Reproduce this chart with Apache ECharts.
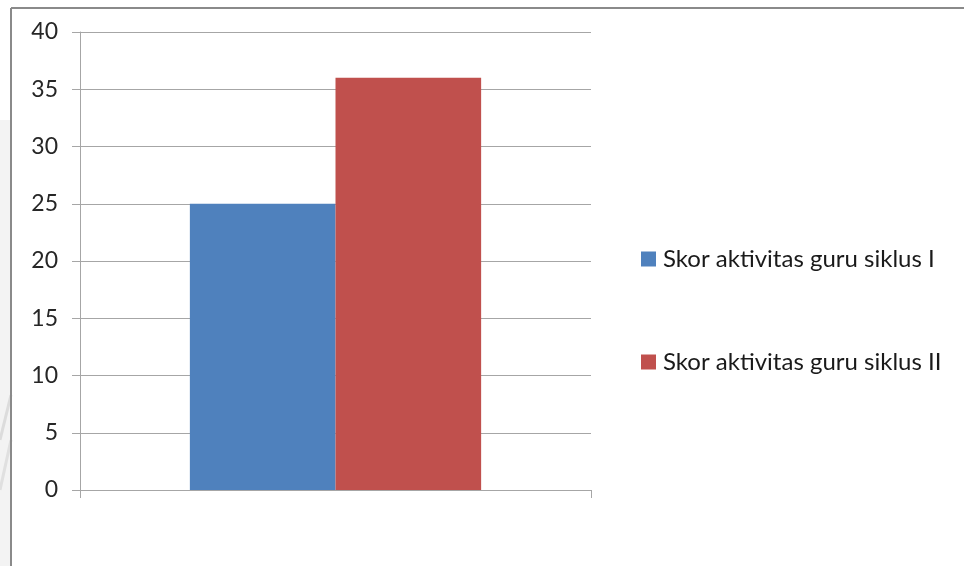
<!DOCTYPE html>
<html>
<head>
<meta charset="utf-8">
<script src="https://cdn.jsdelivr.net/npm/echarts@6/dist/echarts.min.js"></script>
<style>
  html, body { margin: 0; padding: 0; background: #ffffff; }
  #chart { width: 964px; height: 566px; }
</style>
</head>
<body>
<div id="chart"></div>
<script>
// Categories and scores
const categories = [''];
const seriesNames = ['Skor aktivitas guru siklus I', 'Skor aktivitas guru siklus II'];
const siklusI = [25];
const siklusII = [36];
const seriesColors = ['#4f81bd', '#c0504d'];

const chart = echarts.init(document.getElementById('chart'));
const gridColor = '#a6a6a6';
const font = 'Lato, "Open Sans", sans-serif';

chart.setOption({
  animation: false,
  backgroundColor: '#ffffff',
  graphic: [
    // page edge on the left with its faint shading
    { type: 'rect', shape: { x: 0, y: 120, width: 10, height: 446 }, style: { fill: '#f3f3f3' }, z: -10 },
    { type: 'line', shape: { x1: 11, y1: 395, x2: 0, y2: 440 }, style: { stroke: '#dcdcdc', lineWidth: 3 }, z: -9 },
    { type: 'line', shape: { x1: 11, y1: 440, x2: 0, y2: 490 }, style: { stroke: '#e0e0e0', lineWidth: 3 }, z: -9 },
    // chart frame
    { type: 'line', shape: { x1: 11, y1: 8, x2: 964, y2: 8 }, style: { stroke: '#8a8a8a', lineWidth: 2 }, z: -5 },
    { type: 'line', shape: { x1: 11, y1: 8, x2: 11, y2: 566 }, style: { stroke: '#8a8a8a', lineWidth: 2 }, z: -5 }
  ],
  grid: { left: 80, top: 32, width: 511, height: 458, containLabel: false },
  legend: {
    orient: 'vertical',
    left: 641,
    top: 247,
    padding: 0,
    itemWidth: 15,
    itemHeight: 15,
    itemGap: 79,
    icon: 'rect',
    textStyle: { fontFamily: font, fontSize: 24, lineHeight: 24, color: '#1a1a1a', padding: [0, 0, 0, 2] },
    data: seriesNames
  },
  xAxis: {
    type: 'category',
    data: categories,
    boundaryGap: true,
    axisLine: { lineStyle: { color: gridColor, width: 1 } },
    axisTick: { show: true, length: 8, lineStyle: { color: gridColor } },
    axisLabel: { show: false }
  },
  yAxis: {
    type: 'value',
    min: 0,
    max: 40,
    interval: 5,
    axisLine: { show: true, lineStyle: { color: gridColor, width: 1 } },
    axisTick: { show: true, length: 8, inside: false, lineStyle: { color: gridColor } },
    axisLabel: { fontFamily: font, fontSize: 23, color: '#262626', margin: 22 },
    splitLine: { lineStyle: { color: gridColor, width: 1 } }
  },
  series: [
    {
      name: seriesNames[0],
      type: 'bar',
      data: siklusI,
      itemStyle: { color: seriesColors[0] },
      barGap: '0%',
      barCategoryGap: '43%'
    },
    {
      name: seriesNames[1],
      type: 'bar',
      data: siklusII,
      itemStyle: { color: seriesColors[1] },
      barGap: '0%',
      barCategoryGap: '43%'
    }
  ]
});
</script>
</body>
</html>
